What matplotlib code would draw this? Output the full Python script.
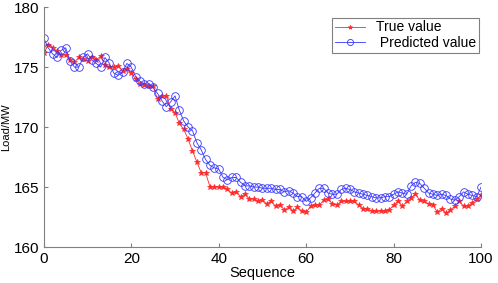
import numpy as np
import matplotlib.pyplot as plt

plt.rcParams['font.family'] = ['Liberation Sans', 'DejaVu Sans']

seq = np.arange(101)

true_value = [
    176.2, 176.8, 176.6, 176.3, 176.0, 176.0, 175.6, 175.4, 175.8, 175.7,
    175.5, 175.8, 175.6, 175.9, 175.2, 175.0, 175.0, 175.1, 174.7, 174.8,
    174.5, 174.0, 173.6, 173.5, 173.4, 173.4, 172.3, 172.6, 172.6, 171.5,
    171.2, 170.3, 169.8, 169.0, 168.0, 167.1, 166.2, 166.2, 165.0, 165.0,
    165.0, 165.0, 164.8, 164.5, 164.6, 164.2, 164.4, 164.0, 164.0, 163.8,
    163.9, 163.6, 163.8, 163.4, 163.5, 163.1, 163.3, 163.0, 163.3, 163.0,
    162.9, 163.4, 163.5, 163.5, 163.9, 164.0, 163.6, 163.5, 163.8, 163.8,
    163.8, 163.8, 163.5, 163.2, 163.2, 163.0, 163.0, 163.0, 163.0, 163.1,
    163.5, 163.8, 163.4, 163.8, 164.1, 164.4, 163.9, 163.8, 163.6, 163.5,
    162.9, 163.2, 162.8, 163.1, 163.4, 163.8, 163.4, 163.4, 163.7, 164.0,
    164.3,
]

predicted_value = [
    177.4, 176.6, 176.1, 175.8, 176.4, 176.6, 175.5, 175.0, 175.0, 175.8,
    176.1, 175.6, 175.3, 175.0, 175.8, 175.3, 174.5, 174.3, 174.6, 175.3,
    175.0, 174.2, 173.8, 173.6, 173.6, 173.3, 172.8, 172.2, 171.7, 172.1,
    172.6, 171.4, 170.5, 170.0, 169.7, 168.7, 168.1, 167.3, 166.8, 166.6,
    166.5, 165.8, 165.6, 165.8, 165.8, 165.4, 165.1, 165.1, 165.0, 165.0,
    164.9, 164.9, 164.9, 164.8, 164.8, 164.6, 164.7, 164.5, 164.2, 164.2,
    163.8, 164.1, 164.5, 164.9, 164.9, 164.5, 164.4, 164.4, 164.8, 164.9,
    164.8, 164.6, 164.5, 164.4, 164.3, 164.2, 164.1, 164.1, 164.2, 164.2,
    164.4, 164.6, 164.5, 164.4, 165.1, 165.4, 165.3, 164.9, 164.5, 164.4,
    164.3, 164.4, 164.3, 164.0, 163.9, 164.2, 164.6, 164.4, 164.3, 164.2,
    165.0,
]

fig = plt.figure(figsize=(4.98, 2.83), dpi=100)
ax = fig.add_axes([0.088, 0.127, 0.878, 0.848])

ax.plot(seq, true_value, color='#ff2a2a', marker='*', markersize=4, lw=0.6,
        markeredgewidth=0.5, label='True value')
ax.plot(seq, predicted_value, color='#3535ff', marker='o', markersize=5.5,
        markerfacecolor='none', markeredgewidth=0.6, lw=0.6,
        label=' Predicted value')

ax.set_xlim(0, 100)
ax.set_ylim(160, 180)
ax.set_xticks([0, 20, 40, 60, 80, 100])
ax.set_yticks([160, 165, 170, 175, 180])

for s in ['top', 'right']:
    ax.spines[s].set_visible(False)
for s in ['left', 'bottom']:
    ax.spines[s].set_color('#808080')
ax.tick_params(direction='in', colors='#808080', labelcolor='black',
               labelsize=11, length=3)

ax.set_xlabel('Sequence', fontsize=10.5, labelpad=0)
ax.set_ylabel('Load/MW', fontsize=8, labelpad=2)

leg = ax.legend(loc='upper right', bbox_to_anchor=(1.012, 0.985), fontsize=10,
                fancybox=False, framealpha=1, borderpad=0.2,
                handlelength=2.2, labelspacing=0.1, markerscale=0.8)
leg.get_frame().set_edgecolor('#808080')
leg.get_frame().set_linewidth(0.8)

fig.savefig('out.png', dpi=100)
